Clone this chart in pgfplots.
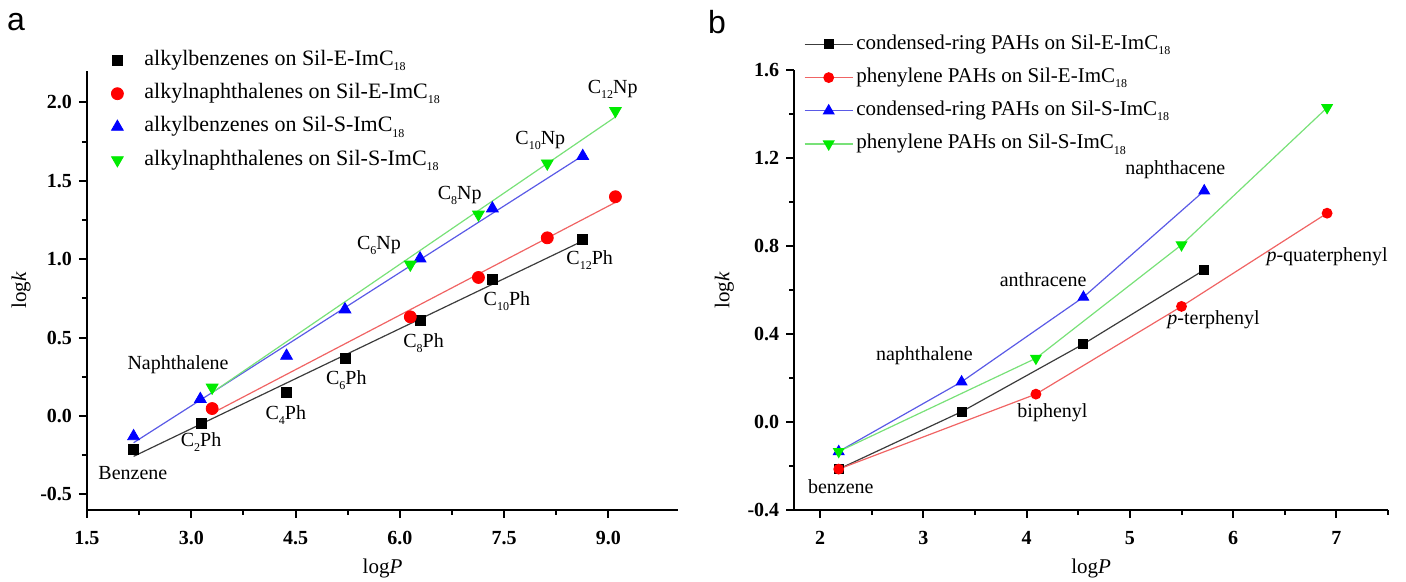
\documentclass[border=0pt]{standalone}
\usepackage{fontspec}
\setmainfont{Liberation Serif}
\newfontfamily\sansfont{Liberation Sans}
\usepackage{pgfplots}
\pgfplotsset{compat=1.18}
\definecolor{mred}{RGB}{255,0,0}
\definecolor{mblue}{RGB}{0,0,255}
\definecolor{mgreen}{RGB}{0,235,0}
\definecolor{lblack}{RGB}{60,60,60}
\definecolor{lred}{RGB}{240,100,100}
\definecolor{lblue}{RGB}{90,90,230}
\definecolor{lgreen}{RGB}{120,225,120}
\newcommand{\sub}[1]{\raisebox{-2.6pt}{\fontsize{6}{6}\selectfont #1}}
\tikzset{lbl/.style={font=\fontsize{10}{12}\selectfont, anchor=center}}
\pgfplotsset{
  common/.style={
    scale only axis,
    axis lines*=left,
    axis line style={line width=1pt},
    tick align=outside,
    major tick length=4pt,
    minor tick length=2.5pt,
    every tick/.style={line width=1pt, black},
    tick label style={font=\fontsize{10}{12}\selectfont\bfseries},
    /pgf/number format/assume math mode=true,
    xticklabel style={yshift=-3pt},
    every axis x label/.style={at={([yshift=-29pt]axis description cs:0.5,0)},anchor=center,font=\fontsize{10.5}{12}\selectfont},
    clip=false,
  }
}
\begin{document}
\begin{tikzpicture}
\path[use as bounding box] (0,0) rectangle (703pt,291pt);
\node[font=\sansfont\fontsize{16}{18}\selectfont] at (8pt,280pt) {a};
\node[font=\sansfont\fontsize{16}{18}\selectfont] at (358.5pt,280pt) {b};
% ---------------- panel a
\begin{axis}[common, at={(43.5pt,36pt)}, anchor=south west,
  width=295.5pt, height=219.5pt,
  xmin=1.5, xmax=10, ymin=-0.6, ymax=2.2,
  xtick={1.5,3,4.5,6,7.5,9}, ytick={-0.5,0,0.5,1,1.5,2},
  minor tick num=1,
  xticklabel style={/pgf/number format/.cd,fixed,fixed zerofill,precision=1},
  yticklabel style={/pgf/number format/.cd,fixed,fixed zerofill,precision=1},
  every axis y label/.style={at={([xshift=-33pt]axis description cs:0,0.5)},rotate=90,anchor=center,font=\fontsize{10.5}{12}\selectfont},
  xlabel={log\textit{P}}, ylabel={log\textit{k}},
  legend image code/.code={\path[draw=none,fill=none] (0pt,0pt) rectangle (23pt,0pt); \draw[#1,only marks] plot coordinates {(11pt,0pt)};},
  legend style={draw=none, fill=none, at={(axis description cs:0,1)}, anchor=north west,
    xshift=4pt, yshift=10.95pt, inner sep=0pt, font=\fontsize{11}{13}\selectfont,
    row sep=5.6pt, cells={anchor=west},
    nodes={inner xsep=1.5pt, inner ysep=0pt, text height=8pt, text depth=3pt}},
]
\addplot[lblack, line width=0.6pt, forget plot] coordinates {(2.17,-0.258) (8.63,1.116)};
\addplot[lred, line width=0.6pt, forget plot] coordinates {(3.30,0.017) (9.10,1.362)};
\addplot[lblue, line width=0.6pt, forget plot] coordinates {(2.17,-0.171) (8.63,1.660)};
\addplot[lgreen, line width=0.6pt, forget plot] coordinates {(3.30,0.149) (9.10,1.907)};
\addplot[only marks, mark=square*, mark size=2.5pt, black] coordinates {
 (2.17,-0.214) (3.14,-0.045) (4.37,0.147) (5.21,0.366) (6.29,0.611) (7.33,0.870) (8.63,1.126)};
\addplot[only marks, mark=*, mark size=3pt, mred] coordinates {
 (3.30,0.047) (6.15,0.632) (7.13,0.883) (8.12,1.136) (9.10,1.398)};
\addplot[only marks, mark=triangle*, mark size=3.4pt, mblue] coordinates {
 (2.17,-0.130) (3.13,0.107) (4.37,0.383) (5.21,0.679) (6.29,1.004) (7.33,1.323) (8.63,1.657)};
\addplot[only marks, mark=triangle*, mark size=3.4pt, mgreen, mark options={rotate=180}] coordinates {
 (3.30,0.181) (6.15,0.966) (7.13,1.285) (8.12,1.611) (9.10,1.946)};
\legend{alkylbenzenes on Sil-E-ImC\sub{18},
        alkylnaphthalenes on Sil-E-ImC\sub{18},
        alkylbenzenes on Sil-S-ImC\sub{18},
        alkylnaphthalenes on Sil-S-ImC\sub{18}}
\node[lbl] at (axis cs:2.16,-0.366) {Benzene};
\node[lbl] at (axis cs:3.14,-0.166) {C\sub{2}Ph};
\node[lbl] at (axis cs:4.36,0.004) {C\sub{4}Ph};
\node[lbl] at (axis cs:5.23,0.228) {C\sub{6}Ph};
\node[lbl] at (axis cs:6.34,0.462) {C\sub{8}Ph};
\node[lbl] at (axis cs:7.54,0.734) {C\sub{10}Ph};
\node[lbl] at (axis cs:8.73,0.994) {C\sub{12}Ph};
\node[lbl] at (axis cs:2.81,0.328) {Naphthalene};
\node[lbl] at (axis cs:5.70,1.089) {C\sub{6}Np};
\node[lbl] at (axis cs:6.86,1.408) {C\sub{8}Np};
\node[lbl] at (axis cs:8.02,1.759) {C\sub{10}Np};
\node[lbl] at (axis cs:9.06,2.083) {C\sub{12}Np};
\end{axis}
% ---------------- panel b
\begin{axis}[common, at={(397.15pt,36pt)}, anchor=south west,
  width=296.85pt, height=219.85pt,
  xmin=1.75, xmax=7.5, ymin=-0.4, ymax=1.6,
  xtick={2,3,4,5,6,7}, ytick={-0.4,0,0.4,0.8,1.2,1.6},
  minor xtick={2.5,3.5,4.5,5.5,6.5,7.5},
  minor ytick={-0.2,0.2,0.6,1.0,1.4},
  xticklabel style={/pgf/number format/.cd,fixed,precision=0},
  yticklabel style={/pgf/number format/.cd,fixed,fixed zerofill,precision=1},
  every axis y label/.style={at={([xshift=-35pt]axis description cs:0,0.5)},rotate=90,anchor=center,font=\fontsize{10.5}{12}\selectfont},
  xlabel={log\textit{P}}, ylabel={log\textit{k}},
  legend image code/.code={\draw[mark repeat=2,mark phase=2,#1] plot coordinates {(0pt,0pt) (12pt,0pt) (24pt,0pt)};},
  legend style={draw=none, fill=none, at={(axis description cs:0,1)}, anchor=north west,
    xshift=4.7pt, yshift=18.65pt, inner sep=0pt, font=\fontsize{10.5}{12.5}\selectfont,
    row sep=5.6pt, cells={anchor=west},
    nodes={inner xsep=1.5pt, inner ysep=0pt, text height=8pt, text depth=3pt}},
]
\addplot[lblack, line width=0.6pt, mark=square*, mark size=2.2pt, mark options={fill=black, draw=black}] coordinates {
 (2.18,-0.214) (3.37,0.047) (4.55,0.355) (5.72,0.692)};
\addplot[lred, line width=0.6pt, mark=*, mark size=2.4pt, mark options={fill=mred, draw=mred}] coordinates {
 (2.18,-0.214) (4.09,0.127) (5.50,0.526) (6.91,0.950)};
\addplot[lblue, line width=0.6pt, mark=triangle*, mark size=2.9pt, mark options={fill=mblue, draw=mblue}] coordinates {
 (2.18,-0.134) (3.37,0.183) (4.55,0.568) (5.72,1.052)};
\addplot[lgreen, line width=0.6pt, mark=triangle*, mark size=2.9pt, mark options={fill=mgreen, draw=mgreen, rotate=180}] coordinates {
 (2.18,-0.134) (4.09,0.290) (5.50,0.806) (6.91,1.430)};
\legend{condensed-ring PAHs on Sil-E-ImC\sub{18},
        phenylene PAHs on Sil-E-ImC\sub{18},
        condensed-ring PAHs on Sil-S-ImC\sub{18},
        phenylene PAHs on Sil-S-ImC\sub{18}}
\node[lbl] at (axis cs:2.20,-0.295) {benzene};
\node[lbl] at (axis cs:3.01,0.301) {naphthalene};
\node[lbl] at (axis cs:4.16,0.647) {anthracene};
\node[lbl] at (axis cs:5.44,1.147) {naphthacene};
\node[lbl] at (axis cs:4.25,0.044) {biphenyl};
\node[lbl] at (axis cs:5.81,0.465) {\textit{p}-terphenyl};
\node[lbl] at (axis cs:6.91,0.753) {\textit{p}-quaterphenyl};
\end{axis}
\end{tikzpicture}
\end{document}
